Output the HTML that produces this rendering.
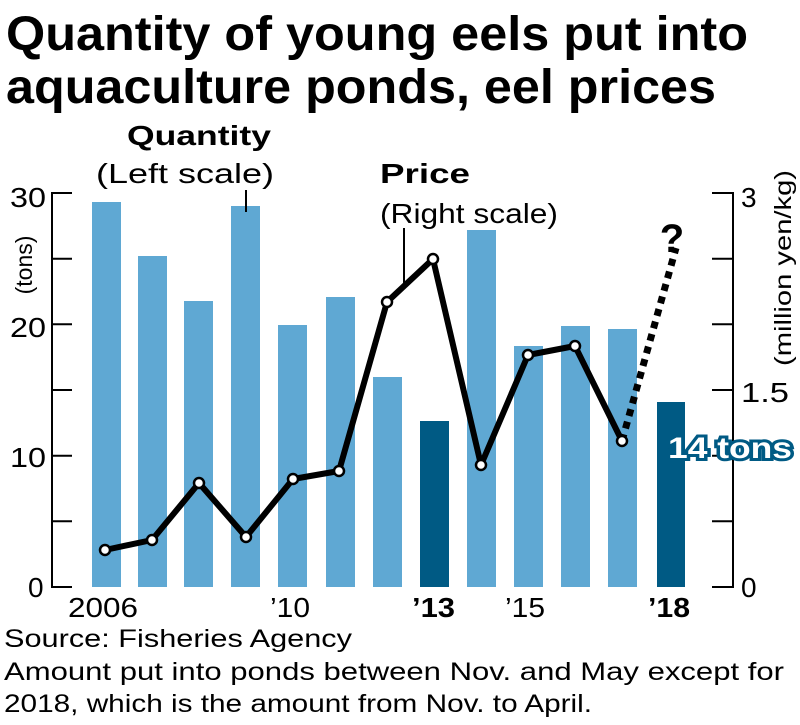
<!DOCTYPE html>
<html><head><style>
body{margin:0;background:#fff;}
svg{display:block;font-family:"Liberation Sans",Arial,sans-serif;}
</style></head><body>
<svg width="800" height="725" viewBox="0 0 800 725">
<text x="6" y="50" font-size="48" font-weight="bold" fill="#000" textLength="742" lengthAdjust="spacingAndGlyphs">Quantity of young eels put into</text>
<text x="6" y="103" font-size="48" font-weight="bold" fill="#000" textLength="710" lengthAdjust="spacingAndGlyphs">aquaculture ponds, eel prices</text>
<g fill="#5fa8d3">
<rect x="92" y="202" width="29" height="385"/>
<rect x="138" y="256" width="29" height="331"/>
<rect x="184" y="301" width="29" height="286"/>
<rect x="231" y="206" width="29" height="381"/>
<rect x="278" y="325" width="29" height="262"/>
<rect x="326" y="297" width="29" height="290"/>
<rect x="373" y="377" width="29" height="210"/>
<rect x="467" y="230" width="29" height="357"/>
<rect x="514" y="346" width="29" height="241"/>
<rect x="561" y="326" width="29" height="261"/>
<rect x="608" y="329" width="29" height="258"/>
</g>
<g fill="#005a84">
<rect x="420" y="421" width="29" height="166"/>
<rect x="657" y="402" width="28" height="185"/>
</g>
<g stroke="#000" stroke-width="2" fill="none">
<path d="M72 193H52V587H72M52 258.7H72M52 324.3H72M52 390H72M52 455.7H72M52 521.3H72"/>
<path d="M712 193H733V587H712M712 258.7H733M712 324.3H733M712 390H733M712 455.7H733M712 521.3H733"/>
<line x1="246" y1="190" x2="246" y2="212"/>
<line x1="404" y1="228" x2="404" y2="283"/>
</g>
<path d="M622 441L676 248" stroke="#000" stroke-width="7" stroke-dasharray="7,6" fill="none"/>
<polyline points="105,550 152,540 199,483 246,537 293,479 339,471 387,302 433,259 481,465 528,355 575,346 622,441" stroke="#000" stroke-width="6" fill="none" stroke-linejoin="round"/>
<g fill="#fff" stroke="#000" stroke-width="2.5">
<circle cx="105" cy="550" r="5"/><circle cx="152" cy="540" r="5"/><circle cx="199" cy="483" r="5"/><circle cx="246" cy="537" r="5"/><circle cx="293" cy="479" r="5"/><circle cx="339" cy="471" r="5"/><circle cx="387" cy="302" r="5"/><circle cx="433" cy="259" r="5"/><circle cx="481" cy="465" r="5"/><circle cx="528" cy="355" r="5"/><circle cx="575" cy="346" r="5"/><circle cx="622" cy="441" r="5"/>
</g>
<text x="672" y="252" font-size="40" font-weight="bold" text-anchor="middle">?</text>
<g font-size="28" fill="#000">
<text x="10" y="207" textLength="36" lengthAdjust="spacingAndGlyphs">30</text>
<text x="10" y="337" textLength="36" lengthAdjust="spacingAndGlyphs">20</text>
<text x="10" y="467" textLength="36" lengthAdjust="spacingAndGlyphs">10</text>
<text x="28" y="597">0</text>
<text x="741" y="207">3</text>
<text x="741" y="402" textLength="48" lengthAdjust="spacingAndGlyphs">1.5</text>
<text x="741" y="597">0</text>
<text x="68" y="617" textLength="70" lengthAdjust="spacingAndGlyphs">2006</text>
<text x="270" y="617" textLength="40" lengthAdjust="spacingAndGlyphs">’10</text>
<text x="412" y="617" font-weight="bold" textLength="43" lengthAdjust="spacingAndGlyphs">’13</text>
<text x="505" y="617" textLength="40" lengthAdjust="spacingAndGlyphs">’15</text>
<text x="648" y="617" font-weight="bold" textLength="42" lengthAdjust="spacingAndGlyphs">’18</text>
<text x="96" y="183" textLength="178" lengthAdjust="spacingAndGlyphs">(Left scale)</text>
<text x="380" y="223" textLength="178" lengthAdjust="spacingAndGlyphs">(Right scale)</text>
</g>
<g font-size="28" font-weight="bold">
<text x="127" y="145" textLength="144" lengthAdjust="spacingAndGlyphs">Quantity</text>
<text x="380" y="183" textLength="90" lengthAdjust="spacingAndGlyphs">Price</text>
</g>
<text transform="translate(32,265) rotate(-90)" font-size="23" text-anchor="middle">(tons)</text>
<text transform="translate(791,268) rotate(-90)" font-size="23" text-anchor="middle" textLength="196" lengthAdjust="spacingAndGlyphs">(million yen/kg)</text>
<text x="668" y="458" font-size="30" font-weight="bold" fill="#fff" stroke="#005a84" stroke-width="6" paint-order="stroke" textLength="124" lengthAdjust="spacingAndGlyphs">14 tons</text>
<g font-size="25" fill="#000">
<text x="4" y="647" textLength="348" lengthAdjust="spacingAndGlyphs">Source: Fisheries Agency</text>
<text x="4" y="680" textLength="780" lengthAdjust="spacingAndGlyphs">Amount put into ponds between Nov. and May except for</text>
<text x="4" y="712" textLength="588" lengthAdjust="spacingAndGlyphs">2018, which is the amount from Nov. to April.</text>
</g>
</svg>
</body></html>
